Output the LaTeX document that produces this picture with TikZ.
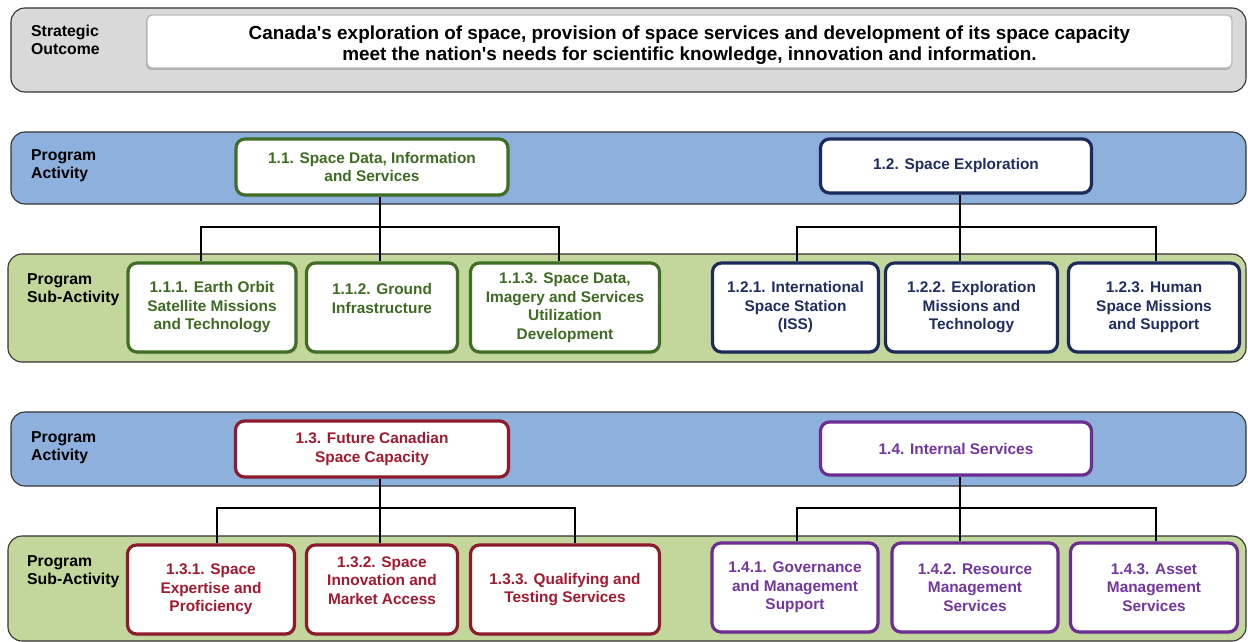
\documentclass[tikz,border=0pt]{standalone}
\usepackage{fontspec}
\setmainfont{Liberation Sans}
\usetikzlibrary{shadows}

\definecolor{bandgray}{HTML}{D9D9D9}
\definecolor{bandblue}{HTML}{8DB0DC}
\definecolor{bandgreen}{HTML}{C3D69B}
\definecolor{grnline}{HTML}{3F6E24}
\definecolor{grntext}{HTML}{3D6B22}
\definecolor{navyline}{HTML}{1D2A5C}
\definecolor{navytext}{HTML}{1F2E60}
\definecolor{redline}{HTML}{8E1B2C}
\definecolor{redtext}{HTML}{A3192E}
\definecolor{purpline}{HTML}{6B2D92}
\definecolor{purptext}{HTML}{7435A0}

\tikzset{
  band/.style={draw=black!80, line width=1.1pt, rounded corners=14pt},
  rowlabel/.style={anchor=north west, align=left, inner sep=0pt,
    font=\bfseries\fontsize{15.8}{18}\selectfont},
  pbox/.style={rounded corners=9pt, fill=white, line width=3.2pt,
    align=center, inner sep=2pt,
    font=\bfseries\fontsize{15.4}{18.5}\selectfont,
    drop shadow={shadow xshift=1pt, shadow yshift=-2pt, opacity=0.35}},
  gbox/.style={pbox, draw=grnline, text=grntext},
  nbox/.style={pbox, draw=navyline, text=navytext},
  rbox/.style={pbox, draw=redline, text=redtext},
  vbox/.style={pbox, draw=purpline, text=purptext},
  conn/.style={draw=black, line width=1.8pt},
}

\begin{document}
\begin{tikzpicture}[x=1pt, y=-1pt]
\useasboundingbox (0,0) rectangle (1248,642);

% ---------- strategic outcome ----------
\draw[band, fill=bandgray] (11,8) rectangle (1246,92);
\node[rowlabel] (solbl) at (31,25) {Strategic\\Outcome};
\node[rounded corners=5pt, fill=white, draw=gray!55, line width=1.4pt,
      minimum width=1085pt, minimum height=53pt,
      drop shadow={shadow xshift=-1pt, shadow yshift=-2pt, opacity=0.45}]
  (so) at (689.5,41.5) {};
\node[align=center, inner sep=0pt, font=\bfseries\fontsize{18.9}{21}\selectfont]
  (sotext) at ([yshift=-4pt]so.center)
  {Canada\textquotesingle s exploration of space, provision of space services and development of its space capacity\\
   meet the nation\textquotesingle s needs for scientific knowledge, innovation and information.};

% ---------- bands, first group ----------
\draw[band, fill=bandblue] (11,132) rectangle (1246,204);
\draw[band, fill=bandgreen] (8,254) rectangle (1246,362);
\node[rowlabel] (pa1) at (31,149) {Program\\Activity};
\node[rowlabel] (psa1) at (27,273) {Program\\Sub-Activity};

% ---------- bands, second group ----------
\draw[band, fill=bandblue] (11,412) rectangle (1246,486);
\draw[band, fill=bandgreen] (8,536) rectangle (1246,641);
\node[rowlabel] (pa2) at (31,431) {Program\\Activity};
\node[rowlabel] (psa2) at (27,555) {Program\\Sub-Activity};

% ---------- 1.1 ----------
\node[gbox, minimum width=272pt, minimum height=56pt] (a11) at (372,167)
  {1.1. Space Data, Information\\and Services};
\node[gbox, minimum width=168pt, minimum height=89pt] (a111) at (212,307.5)
  {1.1.1. Earth Orbit\\Satellite Missions\\and Technology};
\node[gbox, minimum width=151pt, minimum height=89pt] (a112) at (382,307.5)
  {1.1.2. Ground\\Infrastructure\\\mbox{}};
\node[gbox, minimum width=189pt, minimum height=89pt] (a113) at (565,307.5)
  {1.1.3. Space Data,\\Imagery and Services\\Utilization\\Development};

% ---------- 1.2 ----------
\node[nbox, minimum width=271pt, minimum height=54pt] (a12) at (956,166)
  {1.2. Space Exploration};
\node[nbox, minimum width=166pt, minimum height=89pt] (a121) at (795.5,307.5)
  {1.2.1. International\\Space Station\\(ISS)};
\node[nbox, minimum width=172pt, minimum height=89pt] (a122) at (971.5,307.5)
  {1.2.2. Exploration\\Missions and\\Technology};
\node[nbox, minimum width=171pt, minimum height=89pt] (a123) at (1154,307.5)
  {1.2.3. Human\\Space Missions\\and Support};

% ---------- 1.3 ----------
\node[rbox, minimum width=273pt, minimum height=56pt] (a13) at (372,449)
  {1.3. Future Canadian\\Space Capacity};
\node[rbox, minimum width=167pt, minimum height=89pt] (a131) at (211,589.5)
  {1.3.1. Space\\Expertise and\\Proficiency};
\node[rbox, minimum width=151pt, minimum height=89pt] (a132) at (382,589.5)
  {1.3.2. Space\\Innovation and\\Market Access\\\mbox{}};
\node[rbox, minimum width=189pt, minimum height=89pt] (a133) at (565,589.5)
  {1.3.3. Qualifying and\\Testing Services};

% ---------- 1.4 ----------
\node[vbox, minimum width=271pt, minimum height=53pt] (a14) at (956,448.5)
  {1.4. Internal Services};
\node[vbox, minimum width=166pt, minimum height=89pt] (a141) at (795,587.5)
  {1.4.1. Governance\\and Management\\Support};
\node[vbox, minimum width=166pt, minimum height=89pt] (a142) at (975,587.5)
  {1.4.2. Resource\\Management\\Services};
\node[vbox, minimum width=167pt, minimum height=89pt] (a143) at (1154,587.5)
  {1.4.3. Asset\\Management\\Services};

% ---------- connectors ----------
\coordinate (bar1) at (0,227);
\coordinate (bar2) at (0,508);

\draw[conn] ([xshift=8pt]a11.south) -- ([xshift=8pt]a11.south |- bar1);
\draw[conn] ([xshift=-11pt]a111.north) |- ([xshift=-6pt]a113.north |- bar1) -- ([xshift=-6pt]a113.north);
\draw[conn] ([xshift=-2pt]a112.north) -- ([xshift=-2pt]a112.north |- bar1);

\draw[conn] ([xshift=4pt]a12.south) -- ([xshift=4pt]a12.south |- bar1);
\draw[conn] ([xshift=1.5pt]a121.north) |- ([xshift=2pt]a123.north |- bar1) -- ([xshift=2pt]a123.north);
\draw[conn] ([xshift=-11.5pt]a122.north) -- ([xshift=-11.5pt]a122.north |- bar1);

\draw[conn] ([xshift=8pt]a13.south) -- ([xshift=8pt]a13.south |- bar2);
\draw[conn] ([xshift=6pt]a131.north) |- ([xshift=10pt]a133.north |- bar2) -- ([xshift=10pt]a133.north);
\draw[conn] ([xshift=-2pt]a132.north) -- ([xshift=-2pt]a132.north |- bar2);

\draw[conn] ([xshift=4pt]a14.south) -- ([xshift=4pt]a14.south |- bar2);
\draw[conn] ([xshift=2pt]a141.north) |- ([xshift=2pt]a143.north |- bar2) -- ([xshift=2pt]a143.north);
\draw[conn] ([xshift=-15pt]a142.north) -- ([xshift=-15pt]a142.north |- bar2);
\end{tikzpicture}
\end{document}
